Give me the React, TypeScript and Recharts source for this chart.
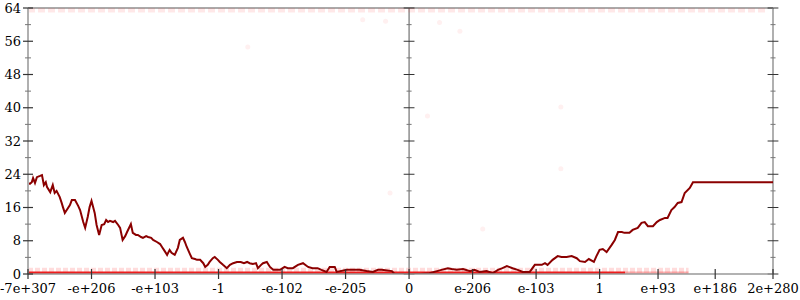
import { ComposedChart, Line, Scatter, XAxis, YAxis, ReferenceLine } from 'recharts';

// axis positions (tick units) and their labels
const xTickPos = [-6, -5, -4, -3, -2, -1, 0, 1, 2, 3, 3.92, 4.82, 5.73];
const xTickLabels = ['-7e+307', '-e+206', '-e+103', '-1', '-e-102', '-e-205', '0', 'e-206', 'e-103', '1', 'e+93', 'e+186', '2e+280'];
const yTicks = [0, 4, 8, 12, 16, 20, 24, 28, 32, 36, 40, 44, 48, 52, 56, 60, 64];

// main series
const lineX = [
  -6.0, -5.97, -5.94, -5.92, -5.89, -5.86, -5.81, -5.78, -5.75, -5.72,
  -5.7, -5.65, -5.61, -5.58, -5.55, -5.5, -5.47, -5.45, -5.42, -5.39,
  -5.34, -5.31, -5.26, -5.21, -5.18, -5.13, -5.1, -5.06, -5.03, -5.0,
  -4.95, -4.92, -4.88, -4.84, -4.8, -4.77, -4.74, -4.71, -4.66, -4.63,
  -4.58, -4.55, -4.51, -4.47, -4.44, -4.38, -4.35, -4.3, -4.27, -4.22,
  -4.19, -4.14, -4.11, -4.06, -4.03, -3.97, -3.92, -3.89, -3.86, -3.81,
  -3.77, -3.74, -3.69, -3.64, -3.61, -3.56, -3.53, -3.5, -3.45, -3.42,
  -3.37, -3.34, -3.29, -3.24, -3.21, -3.17, -3.14, -3.09, -3.06, -3.01,
  -2.98, -2.93, -2.87, -2.82, -2.77, -2.71, -2.65, -2.6, -2.55, -2.51,
  -2.46, -2.41, -2.38, -2.33, -2.3, -2.24, -2.19, -2.14, -2.03, -1.96,
  -1.91, -1.83, -1.75, -1.67, -1.59, -1.52, -1.44, -1.38, -1.3, -1.25,
  -1.17, -1.14, -0.98, -0.89, -0.78, -0.67, -0.57, -0.49, -0.43, -0.27,
  -0.23, -0.02, 0.17, 0.32, 0.44, 0.51, 0.61, 0.67, 0.75, 0.85,
  0.96, 1.03, 1.11, 1.22, 1.32, 1.4, 1.47, 1.54, 1.63, 1.71,
  1.79, 1.9, 1.98, 2.09, 2.14, 2.18, 2.26, 2.34, 2.4, 2.48,
  2.56, 2.64, 2.69, 2.77, 2.83, 2.91, 2.95, 3.0, 3.05, 3.11,
  3.19, 3.24, 3.29, 3.35, 3.39, 3.47, 3.52, 3.6, 3.66, 3.71,
  3.76, 3.84, 3.9, 3.95, 4.03, 4.07, 4.13, 4.18, 4.23, 4.29,
  4.34, 4.42, 4.47, 5.73,
];
const lineY = [
  21.9, 21.7, 22.1, 23.1, 21.9, 23.3, 23.6, 23.8, 21.4, 22.1,
  20.9, 19.7, 21.4, 19.5, 20.0, 18.5, 17.1, 16.1, 14.7, 15.4,
  16.6, 17.8, 17.8, 16.4, 15.4, 12.5, 11.1, 13.7, 16.1, 17.6,
  14.7, 11.8, 9.4, 11.8, 12.0, 13.0, 12.5, 12.8, 12.5, 12.8,
  11.8, 11.1, 8.2, 9.1, 10.1, 12.0, 9.9, 9.4, 9.4, 8.9,
  8.7, 9.1, 8.9, 8.7, 8.2, 7.7, 7.2, 6.5, 5.8, 4.6,
  5.8, 5.1, 4.6, 6.3, 8.2, 8.7, 7.7, 6.5, 4.8, 3.8,
  3.6, 3.4, 3.4, 2.6, 1.7, 2.2, 2.9, 3.8, 4.1, 3.4,
  2.9, 2.2, 1.4, 2.2, 2.6, 2.9, 2.9, 2.6, 2.9, 2.6,
  2.4, 2.6, 1.4, 2.2, 2.6, 2.9, 1.7, 1.0, 1.0, 1.7,
  1.4, 1.4, 2.2, 2.6, 1.7, 1.4, 1.4, 1.0, 0.5, 1.7,
  1.7, 0.5, 1.0, 1.0, 1.0, 0.7, 0.5, 1.0, 1.0, 0.7,
  0, 0, 0, 0.2, 0.7, 1.0, 1.4, 1.2, 1.0, 1.2,
  0.7, 1.0, 0.5, 0.7, 0.2, 1.0, 1.4, 1.9, 1.4, 1.0,
  0.5, 0.5, 2.2, 2.2, 2.6, 2.2, 3.4, 4.3, 4.1, 4.1,
  4.3, 3.8, 3.1, 2.9, 3.6, 2.9, 4.3, 5.8, 6.0, 5.3,
  7.0, 8.2, 10.1, 10.1, 9.9, 9.9, 10.6, 11.1, 12.3, 12.5,
  11.5, 11.5, 12.5, 13.0, 13.5, 13.5, 15.4, 16.1, 17.1, 17.3,
  19.5, 20.7, 22.1, 22.1,
];

// faint sample bands along the bottom and top, and stray faint samples
const zeroSolidX = [-6, 3.4];
const zeroFadeX = [3.4, 4.4];
const lowBandX = [-6, 4.4];
const lowBandY = 0.9;
const topBandX = [-6, 5.65];
const topBandY = 63.5;
const strayX = [0.29, 2.39, 2.39, -0.3, 1.16, -2.54, -0.73, -0.37, 0.48, 0.8];
const strayY = [38.0, 40.2, 25.3, 19.5, 10.8, 54.6, 61.2, 60.8, 60.5, 58.4];

const toPts = (xs: number[], y: number) => xs.map(x => ({ x, y }));
const lineData = lineX.map((x, i) => ({ x, y: lineY[i] }));
const strayData = strayX.map((x, i) => ({ x, y: strayY[i] }));

const FONT = 'DejaVu Serif';

function XTick(props: any) {
  const { x, y, payload } = props;
  const i = xTickPos.indexOf(payload.value);
  return (
    <g>
      <line x1={x} x2={x} y1={y - 5} y2={y + 5} stroke="#333" strokeWidth={1.2} />
      <text x={x} y={y + 19} textAnchor="middle" fontFamily={FONT} fontSize={13} fill="#000">
        {xTickLabels[i]}
      </text>
    </g>
  );
}

function YTick(props: any) {
  const { x, y, payload } = props;
  const major = payload.value % 8 === 0;
  if (!major) {
    return <line x1={x - 3} x2={x + 3} y1={y} y2={y} stroke="#777" />;
  }
  return (
    <g>
      <line x1={x - 5} x2={x + 5} y1={y} y2={y} stroke="#333" strokeWidth={1.2} />
      <text x={x - 7} y={y} dy="0.36em" textAnchor="end" fontFamily={FONT} fontSize={13} fill="#000">
        {payload.value}
      </text>
    </g>
  );
}

const dot = (fill: string, r: number) => (p: any) => <circle cx={p.cx} cy={p.cy} r={r} fill={fill} />;

export default function App() {
  return (
    <div style={{ position: 'absolute', left: 0, top: 0, background: '#fff' }}>
      <ComposedChart width={800} height={300} margin={{ top: 8, right: 27, bottom: 0, left: 0 }}>
        <XAxis
          type="number"
          dataKey="x"
          domain={[-6, 5.73]}
          ticks={xTickPos}
          interval={0}
          allowDataOverflow
          height={26}
          tickSize={0}
          tickMargin={0}
          tickLine={false}
          tick={<XTick />}
          axisLine={{ stroke: '#999', strokeWidth: 1.5 }}
        />
        <YAxis
          type="number"
          dataKey="y"
          domain={[0, 64]}
          ticks={yTicks}
          interval={0}
          allowDataOverflow
          width={28}
          tickSize={0}
          tickMargin={0}
          tickLine={false}
          tick={<YTick />}
          axisLine={{ stroke: '#b0b0b0', strokeWidth: 2 }}
        />

        <ReferenceLine y={64} stroke="#aaa" strokeWidth={2} />
        <ReferenceLine x={0} stroke="#555" strokeWidth={1} />
        <ReferenceLine x={5.73} stroke="#b0b0b0" strokeWidth={2} ifOverflow="visible" />
        {yTicks.map(v => {
          const h = v % 8 === 0 ? 0.085 : 0.04;
          const c = v % 8 === 0 ? '#333' : '#777';
          return [
            <ReferenceLine key={`c${v}`} segment={[{ x: -h, y: v }, { x: h, y: v }]} stroke={c} ifOverflow="visible" />,
            <ReferenceLine key={`r${v}`} segment={[{ x: 5.73 - h, y: v }, { x: 5.73 + h, y: v }]} stroke={c} ifOverflow="visible" />,
          ];
        })}

        <Line data={toPts(topBandX, topBandY)} dataKey="y" stroke="#ff4040" strokeOpacity={0.12} strokeWidth={5} strokeDasharray="7 3" dot={false} isAnimationActive={false} />
        <Line data={toPts(lowBandX, lowBandY)} dataKey="y" stroke="#ff5050" strokeOpacity={0.2} strokeWidth={5} strokeDasharray="5 2" dot={false} isAnimationActive={false} />
        <Line data={toPts(zeroSolidX, 0)} dataKey="y" stroke="#ee1c1c" strokeWidth={5} dot={false} isAnimationActive={false} />
        <Line data={toPts(zeroFadeX, 0)} dataKey="y" stroke="#ee1c1c" strokeOpacity={0.35} strokeWidth={5} dot={false} isAnimationActive={false} />
        <Scatter data={strayData} shape={dot('#fff0f0', 2.5)} isAnimationActive={false} />

        <Line data={lineData} dataKey="y" stroke="#8b0000" strokeWidth={2} dot={false} isAnimationActive={false} />
      </ComposedChart>
    </div>
  );
}
